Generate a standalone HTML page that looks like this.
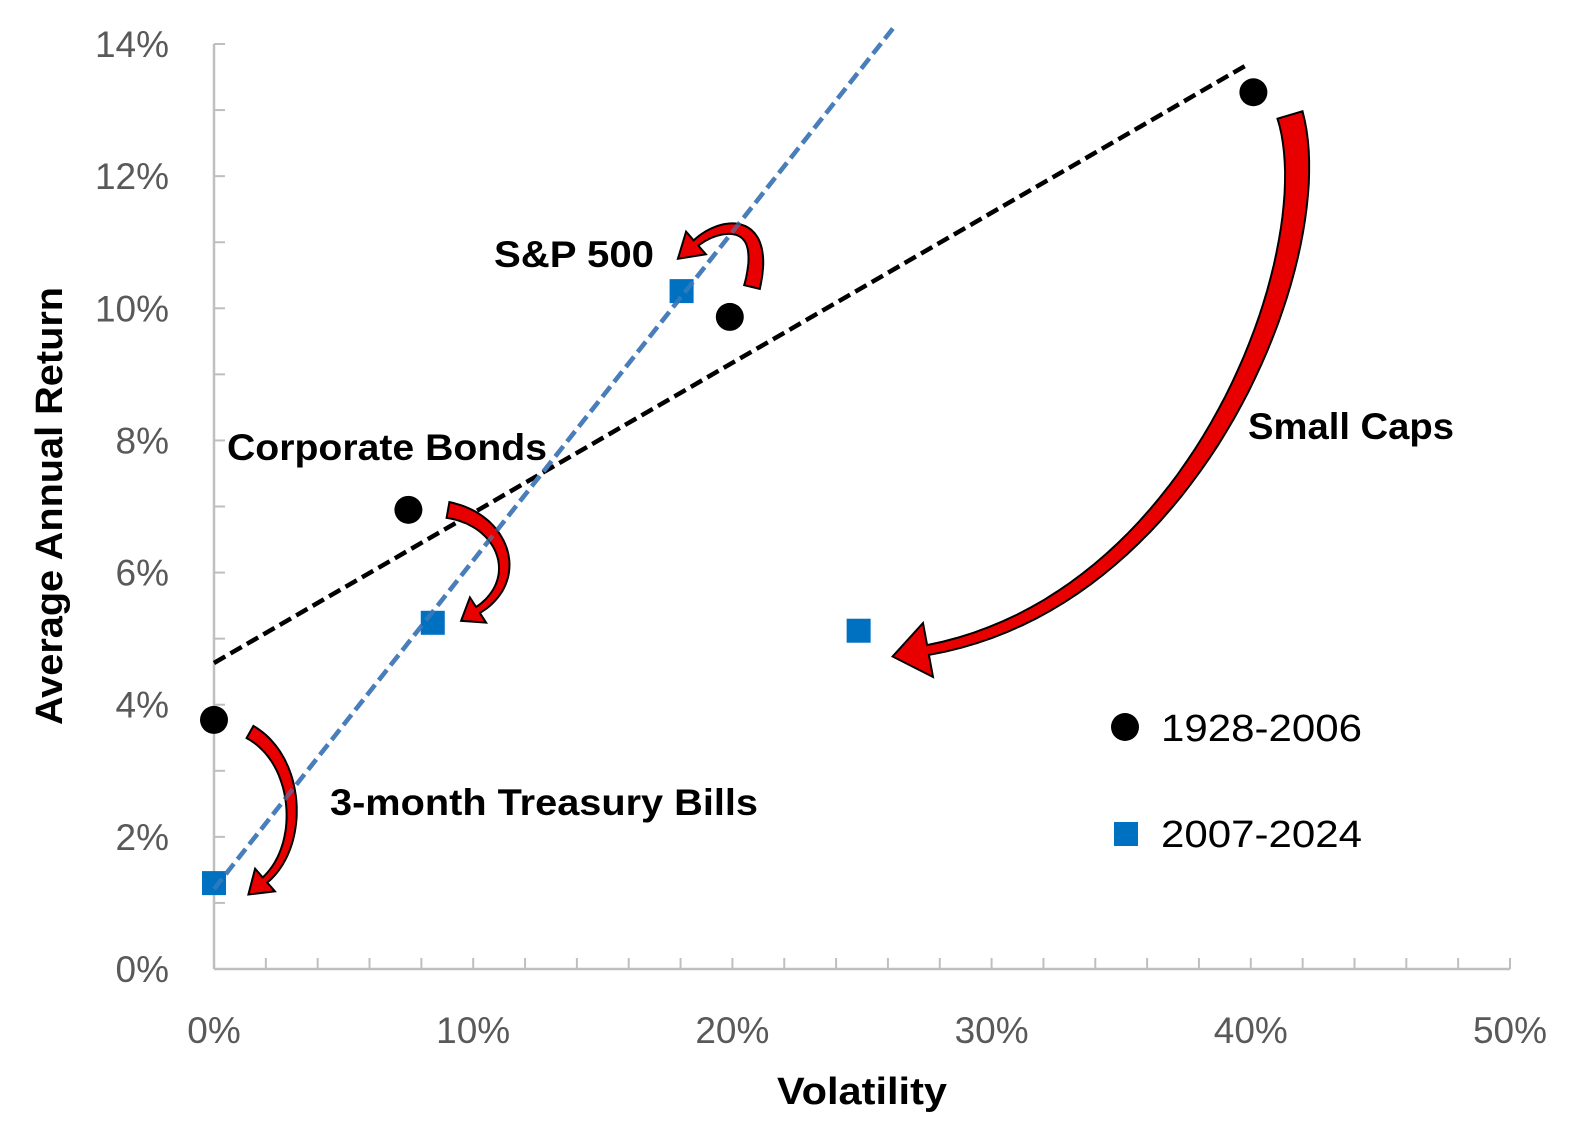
<!DOCTYPE html>
<html><head><meta charset="utf-8"><style>
body{margin:0;background:#fff}
svg text{font-family:"Liberation Sans",sans-serif}
</style></head><body>
<svg id="chart" width="1572" height="1142" viewBox="0 0 1572 1142" xmlns="http://www.w3.org/2000/svg">
<g id="axes"></g>
<g id="lines"></g>
<g id="arrows"></g>
<g id="points"></g>
<text x="777" y="1104" textLength="170" lengthAdjust="spacingAndGlyphs" font-size="38" font-weight="bold">Volatility</text>
<text transform="translate(62,725) rotate(-90)" textLength="438" lengthAdjust="spacingAndGlyphs" font-size="38" font-weight="bold">Average Annual Return</text>
<text x="494" y="267" textLength="160" lengthAdjust="spacingAndGlyphs" font-size="37" font-weight="bold">S&amp;P 500</text>
<text x="227" y="460" textLength="320" lengthAdjust="spacingAndGlyphs" font-size="37" font-weight="bold">Corporate Bonds</text>
<text x="1248" y="439" textLength="206" lengthAdjust="spacingAndGlyphs" font-size="37" font-weight="bold">Small Caps</text>
<text x="330" y="815" textLength="428" lengthAdjust="spacingAndGlyphs" font-size="37" font-weight="bold">3-month Treasury Bills</text>
<g>
<circle cx="1125" cy="727" r="14" fill="#000"/>
<text x="1161" y="741" textLength="201" lengthAdjust="spacingAndGlyphs" font-size="38" fill="#000">1928-2006</text>
<rect x="1114" y="822" width="24" height="24" fill="#0070c0"/>
<text x="1161" y="847" textLength="201" lengthAdjust="spacingAndGlyphs" font-size="38" fill="#000">2007-2024</text>
</g>
</svg>
<script>
const categories = ["3-month Treasury Bills","Corporate Bonds","S&P 500","Small Caps"];
const volOld = [0, 7.5, 19.9, 40.1];
const retOld = [3.77, 6.95, 9.87, 13.27];
const volNew = [0, 8.44, 18.04, 24.87];
const retNew = [1.3, 5.24, 10.26, 5.12];
const xTicks = [0,10,20,30,40,50];
const yTicks = [0,2,4,6,8,10,12,14];

const NS="http://www.w3.org/2000/svg";
const X=v=>214+v*25.92;
const Y=v=>969-v*66.07;
function mk(tag,attrs,parent){const e=document.createElementNS(NS,tag);for(const k in attrs)e.setAttribute(k,attrs[k]);parent.appendChild(e);return e;}
const axes=document.getElementById('axes');
let a=mk('line',{x1:X(0),y1:Y(0),x2:X(50),y2:Y(0),stroke:'#bfbfbf','stroke-width':2.5},axes);


a=mk('line',{x1:X(0),y1:Y(0),x2:X(0),y2:Y(14),stroke:'#bfbfbf','stroke-width':2.5},axes);


for(let v=2;v<=50;v+=2){const t=mk('line',{x1:X(v),y1:Y(0),x2:X(v),y2:Y(0)-11,stroke:'#bfbfbf','stroke-width':2},axes);

}
for(let v=1;v<=14;v+=1){const t=mk('line',{x1:X(0),y1:Y(v),x2:X(0)+11,y2:Y(v),stroke:'#bfbfbf','stroke-width':2},axes);

}
xTicks.forEach(v=>{const t=mk('text',{x:X(v),y:1043,'text-anchor':'middle','font-size':37,fill:'#595959'},axes);t.textContent=v+'%';

});
yTicks.forEach(v=>{const t=mk('text',{x:169,y:Y(v)+13,'text-anchor':'end','font-size':37,fill:'#595959'},axes);t.textContent=v+'%';

});

function fit(xs,ys){const n=xs.length;const mx=xs.reduce((a,b)=>a+b)/n,my=ys.reduce((a,b)=>a+b)/n;let sxy=0,sxx=0;for(let i=0;i<n;i++){sxy+=(xs[i]-mx)*(ys[i]-my);sxx+=(xs[i]-mx)**2;}const s=sxy/sxx;return [s,my-s*mx];}
const lines=document.getElementById('lines');
const [s1,b1]=fit(volOld,retOld);
let l=mk('line',{x1:X(0),y1:Y(b1),x2:X(39.9),y2:Y(b1+s1*39.9),stroke:'#000','stroke-width':4.5,'stroke-dasharray':'13 6'},lines);


const [s2,b2]=fit(volNew.slice(0,3),retNew.slice(0,3));
const xe=(14.25-b2)/s2;
l=mk('line',{x1:X(0),y1:Y(b2),x2:X(xe),y2:Y(b2+s2*xe),stroke:'#4a7ebb','stroke-width':4.5,'stroke-dasharray':'13 6'},lines);



const pts=document.getElementById('points');
volOld.forEach((v,i)=>{const c=mk('circle',{cx:X(v),cy:Y(retOld[i]),r:14,fill:'#000'},pts);

});
volNew.forEach((v,i)=>{const r=mk('rect',{x:X(v)-12,y:Y(retNew[i])-12,width:24,height:24,fill:'#0070c0'},pts);

});
const ov=mk('line',{x1:X(0),y1:Y(b2),x2:X(xe),y2:Y(b2+s2*xe),stroke:'#4a7ebb','stroke-width':4.5,'stroke-dasharray':'13 6','stroke-opacity':0.6},pts);



function arrow(P,w0,w1,hw,hl,name){
  const N=50,L=[],R=[];
  const bez=(t,i)=>{const u=1-t;return u*u*u*P[0][i]+3*u*u*t*P[1][i]+3*u*t*t*P[2][i]+t*t*t*P[3][i];};
  const der=(t,i)=>{const u=1-t;return 3*u*u*(P[1][i]-P[0][i])+6*u*t*(P[2][i]-P[1][i])+3*t*t*(P[3][i]-P[2][i]);};
  let dx,dy,nx,ny;
  for(let k=0;k<=N;k++){const t=k/N;const x=bez(t,0),y=bez(t,1);dx=der(t,0);dy=der(t,1);const m=Math.hypot(dx,dy);dx/=m;dy/=m;nx=-dy;ny=dx;const w=(w0+(w1-w0)*t)/2;L.push([x+nx*w,y+ny*w]);R.push([x-nx*w,y-ny*w]);}
  const E=P[3];
  const head=[[E[0]+nx*hw/2,E[1]+ny*hw/2],[E[0]+dx*hl,E[1]+dy*hl],[E[0]-nx*hw/2,E[1]-ny*hw/2]];
  const all=[...L,L[N],head[0],head[1],head[2],R[N],...R.reverse()];
  const d='M'+all.map(p=>p[0].toFixed(1)+','+p[1].toFixed(1)).join('L')+'Z';
  const g=document.getElementById('arrows');
  const p=mk('path',{d:d,fill:'#e80000',stroke:'#000','stroke-width':2,'stroke-linejoin':'miter'},g);
  
  
}
arrow([[250,732],[300,760],[305,845],[265,880]],14,7,30,22,'arrow-treasury-bills');
arrow([[448,510],[505,520],[525,580],[478,610]],16,7,30,20,'arrow-corporate-bonds');
arrow([[752,287],[770,215],[720,222],[696,243]],16,7,30,24,'arrow-sp500');
arrow([[1290,115],[1330,250],[1200,600],[928,650]],26,10,55,36,'arrow-small-caps');
</script>
</body></html>
